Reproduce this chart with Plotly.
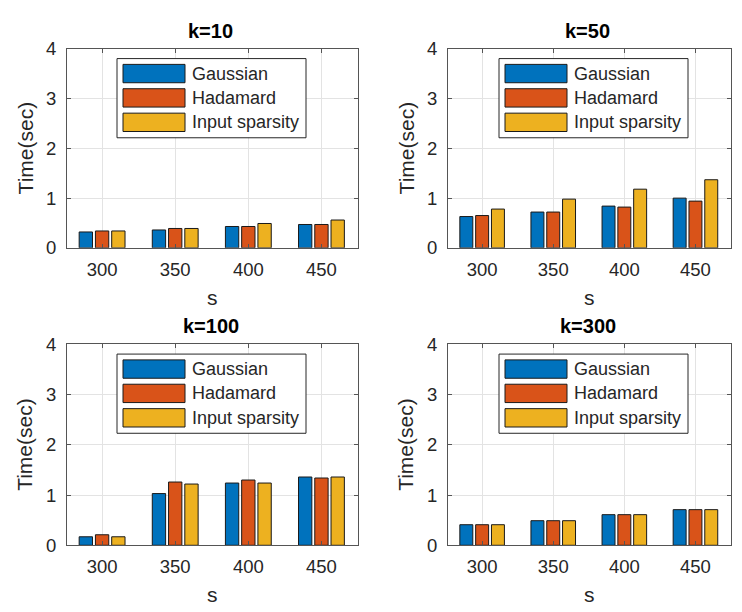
import plotly.graph_objects as go

# ---------------- data ----------------
s_values = [300, 350, 400, 450]
series_names = ["Gaussian", "Hadamard", "Input sparsity"]
series_colors = ["#0072BD", "#D95319", "#EDB120"]
panel_titles = ["k=10", "k=50", "k=100", "k=300"]
y_ticks = [0, 1, 2, 3, 4]

k10_gaussian = [0.32, 0.36, 0.43, 0.47]
k10_hadamard = [0.34, 0.39, 0.43, 0.47]
k10_input = [0.34, 0.39, 0.49, 0.56]

k50_gaussian = [0.63, 0.72, 0.84, 1.00]
k50_hadamard = [0.65, 0.72, 0.82, 0.94]
k50_input = [0.78, 0.98, 1.18, 1.37]

k100_gaussian = [0.17, 1.03, 1.24, 1.36]
k100_hadamard = [0.21, 1.26, 1.30, 1.34]
k100_input = [0.17, 1.22, 1.24, 1.36]

k300_gaussian = [0.41, 0.49, 0.61, 0.71]
k300_hadamard = [0.41, 0.49, 0.61, 0.71]
k300_input = [0.41, 0.49, 0.61, 0.71]

panel_series = [
    [k10_gaussian, k10_hadamard, k10_input],
    [k50_gaussian, k50_hadamard, k50_input],
    [k100_gaussian, k100_hadamard, k100_input],
    [k300_gaussian, k300_hadamard, k300_input],
]

# ---------------- layout geometry (screen pixels) ----------------
W, H = 742, 612
OFF = 8  # page body margin of the html page
# (left, right, top, bottom) of each plot area in screen pixels
panels = [(67, 358, 39, 245), (448, 731, 39, 245),
          (67, 358, 345, 553), (448, 731, 345, 553)]
legend_left = [117, 499, 117, 499]


def px(x):
    return (x - OFF) / W


def py(y):
    return 1 - (y - OFF) / H


FONT = "Liberation Sans, Arial, sans-serif"
TXT = "#262626"

fig = go.Figure()
layout = dict(
    width=W, height=H,
    margin=dict(l=0, r=0, t=0, b=0),
    paper_bgcolor="white", plot_bgcolor="white",
    barmode="group", bargap=0.333, bargroupgap=0.18,
    showlegend=False,
    font=dict(family=FONT, color=TXT),
)
annotations = []
shapes = []

for i, (l, r, t, b) in enumerate(panels):
    xa = "x" if i == 0 else f"x{i + 1}"
    ya = "y" if i == 0 else f"y{i + 1}"
    for j, name in enumerate(series_names):
        fig.add_trace(go.Bar(
            x=s_values, y=panel_series[i][j], name=name,
            marker=dict(color=series_colors[j], line=dict(color="#1a1a1a", width=1)),
            xaxis=xa, yaxis=ya, showlegend=False,
        ))
    axis_common = dict(
        showline=True, linecolor="#555555", linewidth=1, mirror="ticks",
        ticks="inside", ticklen=4, tickcolor="#555555",
        showgrid=True, gridcolor="#e3e3e3", gridwidth=1, zeroline=False,
        tickfont=dict(family=FONT, size=18.5, color=TXT),
    )
    layout["xaxis" if i == 0 else f"xaxis{i + 1}"] = dict(
        axis_common, domain=[px(l), px(r)], anchor=ya,
        range=[276, 475], tickvals=s_values, ticktext=[str(v) for v in s_values],
        ticklabelstandoff=5,
    )
    layout["yaxis" if i == 0 else f"yaxis{i + 1}"] = dict(
        axis_common, domain=[py(b), py(t)], anchor=xa,
        range=[0, 4], tickvals=y_ticks, ticktext=[str(v) for v in y_ticks],
        ticklabelstandoff=6,
    )
    cx = (l + r) / 2
    cy = (t + b) / 2
    # title
    annotations.append(dict(
        text=f"<b>{panel_titles[i]}</b>", x=px(cx - 2), y=py(t - 19), xref="paper", yref="paper",
        showarrow=False, xanchor="center", yanchor="middle",
        font=dict(family=FONT, size=20, color="#000000")))
    # y label
    annotations.append(dict(
        text="Time(sec)", x=px(l - 42), y=py(cy), xref="paper", yref="paper",
        showarrow=False, xanchor="center", yanchor="middle", textangle=-90,
        font=dict(family=FONT, size=21, color=TXT)))
    # x label
    annotations.append(dict(
        text="s", x=px(cx), y=py(b + 51), xref="paper", yref="paper",
        showarrow=False, xanchor="center", yanchor="middle",
        font=dict(family=FONT, size=21, color=TXT)))

    # manual legend box (MATLAB style, large swatches)
    bl = legend_left[i]
    bt = t + 10
    bw, bh = 189, 82
    shapes.append(dict(type="rect", xref="paper", yref="paper",
                       x0=px(bl), x1=px(bl + bw), y0=py(bt + bh), y1=py(bt),
                       line=dict(color="#262626", width=1), fillcolor="white", layer="above"))
    row_centers = [15.5, 40.7, 66.0]
    for j, name in enumerate(series_names):
        rc = bt + row_centers[j]
        shapes.append(dict(type="rect", xref="paper", yref="paper",
                           x0=px(bl + 6), x1=px(bl + 68), y0=py(rc + 9.5), y1=py(rc - 9.5),
                           line=dict(color="#1a1a1a", width=1), fillcolor=series_colors[j],
                           layer="above"))
        annotations.append(dict(
            text=name, x=px(bl + 73), y=py(rc), xref="paper", yref="paper",
            showarrow=False, xanchor="left", yanchor="middle",
            font=dict(family=FONT, size=18, color=TXT)))

layout["annotations"] = annotations
layout["shapes"] = shapes
fig.update_layout(**layout)
fig.write_html("out.html")
